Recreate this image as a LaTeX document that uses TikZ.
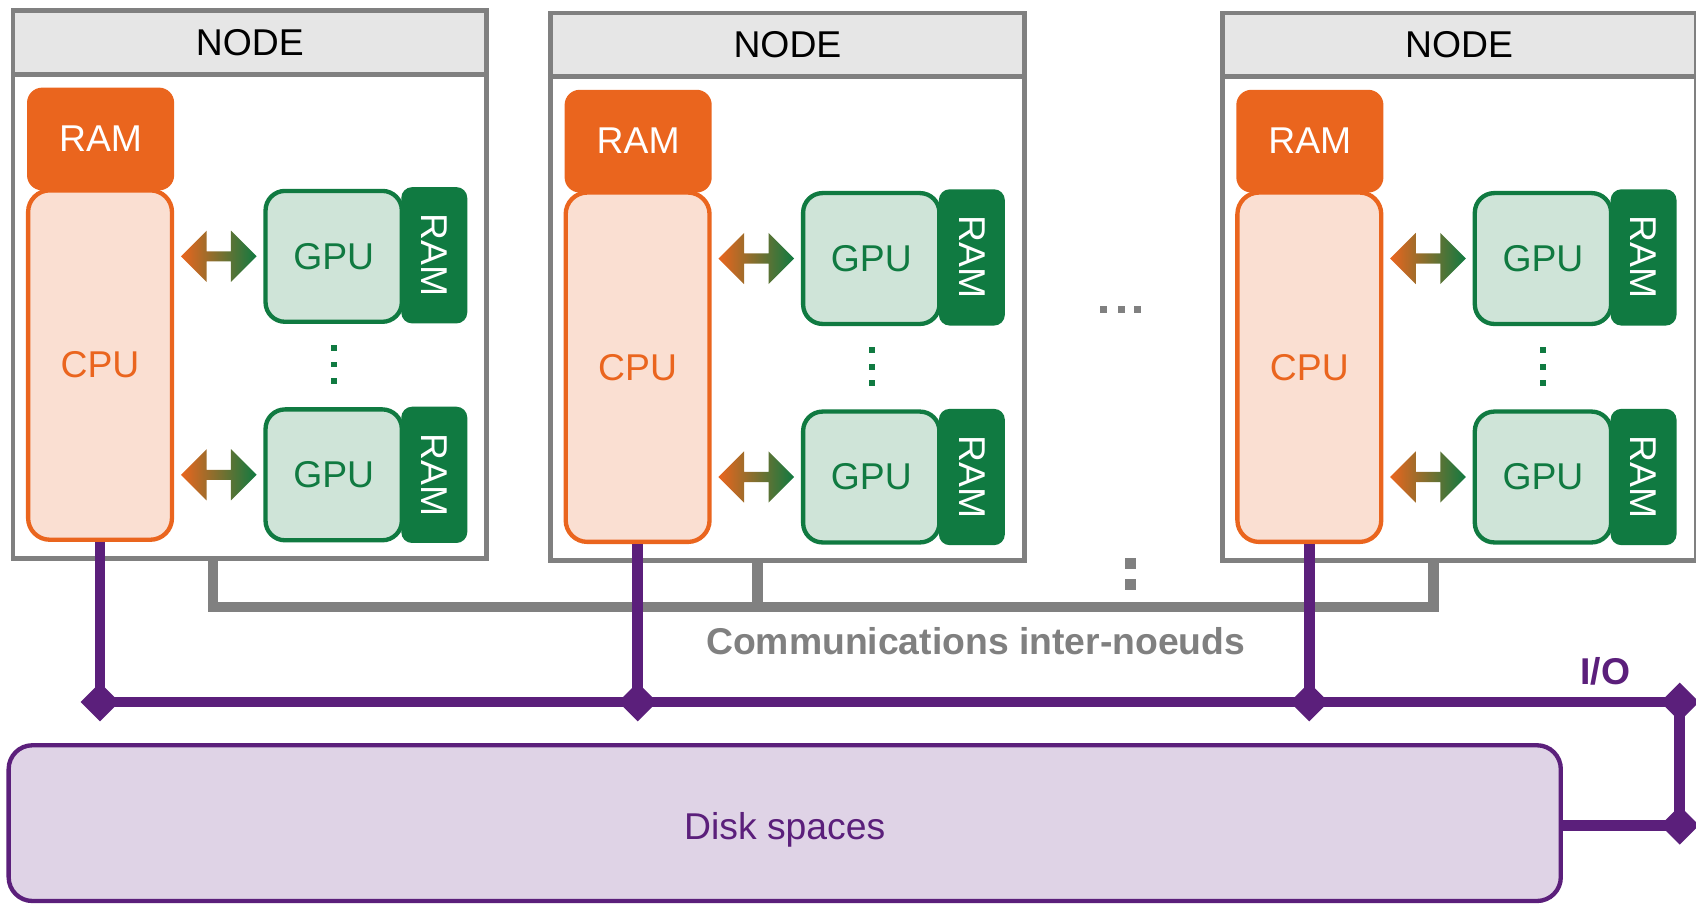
\documentclass[tikz,border=0pt]{standalone}
\usepackage{fontspec}
\setmainfont{Liberation Sans}
\usetikzlibrary{shapes,arrows,positioning,calc}

\definecolor{cpuorange}{HTML}{EA651E}
\definecolor{cpulight}{HTML}{FADFD2}
\definecolor{gpugreen}{HTML}{107A41}
\definecolor{gpulight}{HTML}{CFE4D8}
\definecolor{linkgray}{HTML}{808080}
\definecolor{headgray}{HTML}{E6E6E6}
\definecolor{iopurple}{HTML}{5B1F7B}
\definecolor{disklight}{HTML}{DFD3E6}

\tikzset{
  txt/.style={font=\fontsize{34.5}{38}\selectfont, inner sep=0pt},
  nodebox/.style={draw=linkgray, line width=4.5pt, minimum width=438pt, minimum height=506pt, inner sep=0pt},
  nodehead/.style={txt, draw=linkgray, fill=headgray, line width=4.5pt, minimum width=438pt, minimum height=59pt},
  ramcpu/.style={txt, fill=cpuorange, rounded corners=14pt, minimum width=136pt, minimum height=95pt, text=white},
  cpubox/.style={txt, draw=cpuorange, fill=cpulight, line width=4pt, rounded corners=20pt, minimum width=133pt, minimum height=323pt, text=cpuorange},
  ramgpu/.style={txt, fill=gpugreen, rounded corners=10pt, minimum width=61pt, minimum height=126pt, text=white},
  gpubox/.style={txt, draw=gpugreen, fill=gpulight, line width=4pt, rounded corners=18pt, minimum width=126pt, minimum height=121pt, text=gpugreen},
  link/.style={double arrow, double arrow head extend=19pt, minimum height=70pt, minimum width=0pt, inner sep=4.5pt, left color=cpuorange, right color=gpugreen},
  commline/.style={draw=linkgray, line width=10pt},
  ioline/.style={draw=iopurple, line width=10pt},
  joint/.style={diamond, fill=iopurple, minimum size=36pt, inner sep=0pt},
  diskbox/.style={txt, draw=iopurple, fill=disklight, line width=4pt, rounded corners=22pt, minimum width=1435pt, minimum height=144pt, text=iopurple}
}

\begin{document}
\begin{tikzpicture}[x=1pt, y=-1pt]
    \useasboundingbox (0,0) rectangle (1568,836);

    % the three compute nodes
    \foreach \i/\dx/\dy in {1/0/0, 2/497/2, 3/1118/2} {
        \begin{scope}[shift={(\dx,\dy)}]
            \node[nodebox] (box\i) at (231,263) {};
            \node[nodehead] (head\i) at (231,39.5) {NODE};
            \node[ramcpu] (ram\i) at (93,128.5) {RAM};
            \node[cpubox] (cpu\i) at (92.5,337.5) {CPU};
            \node[ramgpu] (grama\i) at (401.5,236) {\rotatebox{-90}{RAM}};
            \node[gpubox] (gpua\i) at (308.5,237) {GPU};
            \node[ramgpu] (gramb\i) at (401.5,439) {\rotatebox{-90}{RAM}};
            \node[gpubox] (gpub\i) at (308.5,439) {GPU};
            \node[link] (linka\i) at ($(cpu\i.east |- gpua\i.west)!0.5!(gpua\i.west)$) {};
            \node[link] (linkb\i) at ($(cpu\i.east |- gpub\i.west)!0.5!(gpub\i.west)$) {};
            \foreach \yy in {322,337,352}
                \fill[gpugreen] (306,\yy-2.75) rectangle (311.5,\yy+2.75);
        \end{scope}
    }

    % dots between nodes
    \foreach \xx in {1020,1036.5,1052}
        \fill[linkgray] (\xx-3.25,282.75) rectangle (\xx+3.25,289.25);
    \foreach \yy in {521,540}
        \fill[linkgray] (1040,\yy-5) rectangle (1050,\yy+5);

    % inter-node links
    \coordinate (tap1) at ($(box1.south)+(-34,0)$);
    \coordinate (tap2) at ($(box2.south)+(-28,0)$);
    \coordinate (tap3) at ($(box3.south)+(-24,0)$);
    \draw[commline] (tap1) -- ++(0,43) coordinate (bus) -| (tap3);
    \draw[commline] (tap2) -- (tap2 |- bus);
    \node[txt, text=linkgray] (commlabel) at (902,593) {\bfseries Communications inter-noeuds};

    % storage
    \node[diskbox] (disk) at (725.5,761) {};
    \node[txt, text=iopurple] (disklabel) at (725.5,767) {Disk spaces};
    \coordinate (ioR) at (1553,649);
    \coordinate (ioD) at (1553,763);
    \foreach \i in {1,2,3}
        \node[joint] (j\i) at (cpu\i.south |- ioR) {};
    \node[joint] (jR) at (ioR) {};
    \node[joint] (jD) at (ioD) {};
    \foreach \i in {1,2,3}
        \draw[ioline] (cpu\i.south) -- (j\i.center);
    \draw[ioline] (j1.center) -- (jR.center) -- (jD.center) -- (disk.east |- jD);
    \node[txt, text=iopurple] (iolabel) at (1484,621) {\bfseries I/O};
\end{tikzpicture}
\end{document}
